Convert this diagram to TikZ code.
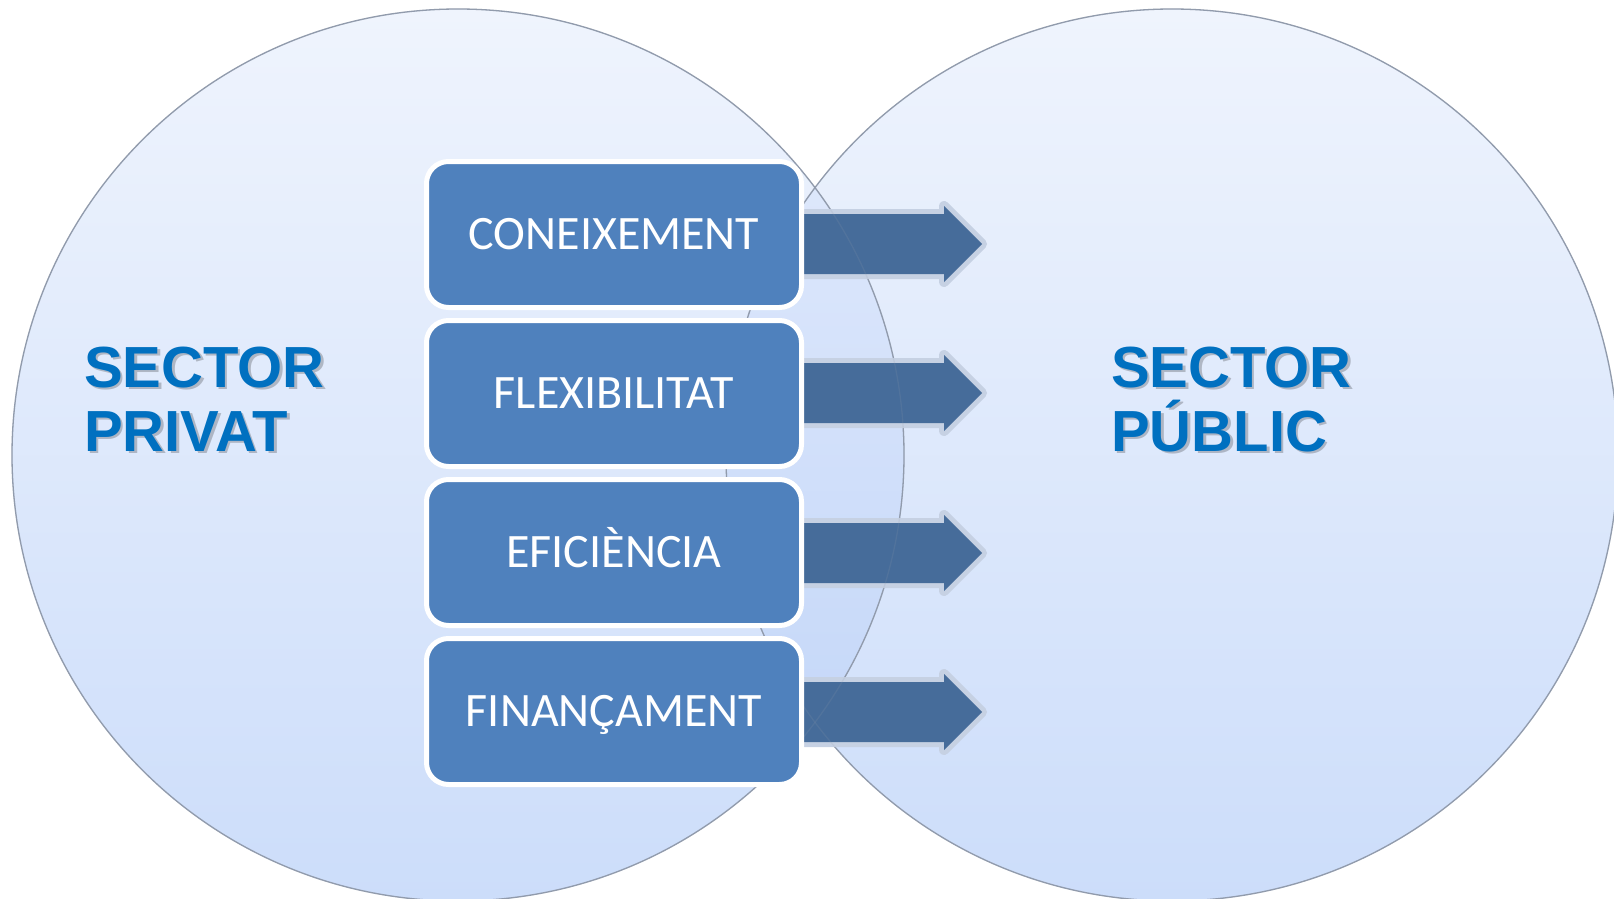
\documentclass[tikz,border=0pt]{standalone}
\usepackage{fontspec}
\setmainfont{Carlito}
\newfontfamily\secfont{Liberation Sans}
\definecolor{circtop}{RGB}{239,244,253}
\definecolor{circbot}{RGB}{204,221,250}
\definecolor{lenstop}{RGB}{228,236,252}
\definecolor{lensbot}{RGB}{190,211,248}
\definecolor{circline}{RGB}{145,155,172}
\definecolor{boxblue}{RGB}{79,129,189}
\definecolor{arrowblue}{RGB}{70,108,154}
\definecolor{glowc}{RGB}{198,209,227}
\definecolor{sectblue}{RGB}{0,112,192}
\tikzset{
  circfill/.style={top color=circtop, bottom color=circbot},
  lensfill/.style={top color=lenstop, bottom color=lensbot},
  circedge/.style={draw=circline, line width=1.3pt},
  arrowglow/.style={draw=glowc, line width=10pt, line join=round},
  arrowbody/.style={fill=arrowblue},
  boxst/.style={rectangle, rounded corners=22pt, draw=white, line width=5pt, fill=boxblue,
    minimum width=375pt, minimum height=146pt, inner sep=0pt, text=white,
    font=\fontsize{48pt}{48pt}\selectfont, text height=30.5pt, text depth=0pt},
  secttxt/.style={font=\secfont\bfseries\fontsize{58pt}{58pt}\selectfont, text=sectblue,
    inner sep=0pt, anchor=base west},
  sectshadow/.style={secttxt, text=black, text opacity=0.22}
}
\begin{document}
\begin{tikzpicture}[x=1pt,y=-1pt]
\useasboundingbox (0,0) rectangle (1614,899);
\clip (0,0) rectangle (1614,899);
% circles
\shade[circfill] (458,455) circle[radius=446];
\shade[circfill] (1172,455) circle[radius=446];
\begin{scope}
  \clip (458,455) circle[radius=446];
  \shade[lensfill] (1172,455) circle[radius=446];
\end{scope}
\draw[circedge] (458,455) circle[radius=446];
\draw[circedge] (1172,455) circle[radius=446];
% arrows
\foreach \yy in {244,393,553,712} {
  \draw[arrowglow] (795,\yy-30) -- (944,\yy-30) -- (944,\yy-38) -- (982,\yy) -- (944,\yy+38) -- (944,\yy+30) -- (795,\yy+30) -- cycle;
  \fill[arrowbody] (795,\yy-30) -- (944,\yy-30) -- (944,\yy-38) -- (982,\yy) -- (944,\yy+38) -- (944,\yy+30) -- (795,\yy+30) -- cycle;
}
\draw[circedge, draw opacity=0.15] (458,455) circle[radius=446];
\draw[circedge, draw opacity=0.15] (1172,455) circle[radius=446];
% boxes
\node[boxst] (b1) at (614,234.5) {CONEIXEMENT};
\node[boxst] (b2) at (614,393.5) {FLEXIBILITAT};
\node[boxst] (b3) at (614,552.5) {EFICIÈNCIA};
\node[boxst] (b4) at (614,711.5) {FINANÇAMENT};
% sector labels
\node[sectshadow] (p1s) at (86.5,389.5) {SECTOR};
\node[sectshadow] (p2s) at (86.5,453.5) {PRIVAT};
\node[secttxt] (p1) at (84,387) {SECTOR};
\node[secttxt] (p2) at (84,451) {PRIVAT};
\node[sectshadow] (q1s) at (1113.5,389.5) {SECTOR};
\node[sectshadow] (q2s) at (1113.5,453.5) {PÚBLIC};
\node[secttxt] (q1) at (1111,387) {SECTOR};
\node[secttxt] (q2) at (1111,451) {PÚBLIC};
\end{tikzpicture}
\end{document}
